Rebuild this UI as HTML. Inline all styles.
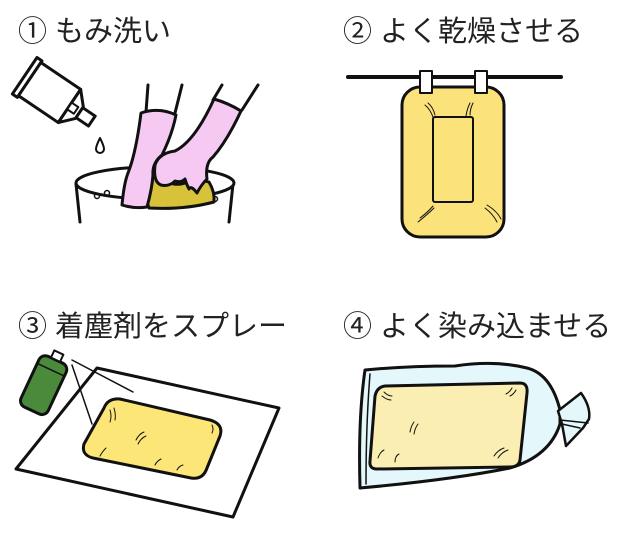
<!DOCTYPE html>
<html><head><meta charset="utf-8"><style>
html,body{margin:0;padding:0;background:#fff;}
svg{display:block;}
text{font-family:"Liberation Sans","Noto Sans CJK JP",sans-serif;font-size:29px;fill:#222;}
</style></head><body>
<svg width="620" height="533" viewBox="0 0 620 533" xmlns="http://www.w3.org/2000/svg">
<text x="18" y="41">① もみ洗い</text>
<text x="343" y="41">② よく乾燥させる</text>
<text x="18" y="336">③ 着塵剤をスプレー</text>
<text x="343" y="336">④ よく染み込ませる</text>

<g stroke="#111" stroke-width="3" stroke-linejoin="round" stroke-linecap="round">
<!-- Panel 1 bottle -->
<g transform="translate(28,78) rotate(34)">
<rect x="-4" y="-22" width="6" height="44" fill="#fff"/>
<rect x="2" y="-20" width="48" height="40" fill="#fff"/>
<polygon points="50,-20 62,-7 62,7 50,20" fill="#fff"/>
<rect x="62" y="-6" width="15" height="12" fill="#fff"/>
<rect x="50" y="-4" width="8" height="8" fill="#fff" stroke-width="2"/>
</g>
<path d="M100,138 q-4,8 -4,11 a4,4 0 0 0 8,0 q0,-3 -4,-11z" fill="#fff" stroke-width="2"/>
<!-- bucket -->
<path d="M76,184 L80,222 M233,184 L229,222" fill="none"/>
<ellipse cx="155" cy="183" rx="79" ry="16" fill="#fff"/>
<circle cx="97" cy="196" r="2.5" fill="none" stroke-width="1.5"/>
<circle cx="107" cy="193" r="2.5" fill="none" stroke-width="1.5"/>
<circle cx="215" cy="199" r="2.5" fill="none" stroke-width="1.5"/>
<!-- cloth -->
<path d="M147,172 q8,-8 14,2 q6,12 20,10 q18,-5 28,-2 q6,10 5,20 q-30,8 -65,6 q-6,-16 -2,-36z" fill="#d8c23a"/>
<!-- arm lines -->
<path d="M148,85 L146,112 M182,85 L175,113 M222,85 L213,100 M258,85 L242,110" fill="none"/>
<!-- left glove -->
<path d="M141,113 q18,-6 35,2 q-4,20 -14,40 q-10,8 -9,20 q-1,14 -6,32 q-12,2 -25,-2 q2,-22 6,-32 q8,-20 13,-60z" fill="#f5c9f2"/>
<!-- right glove -->
<path d="M214,99 q14,4 27,12 q-14,30 -28,46 q-8,6 -6,22 q-6,6 -10,14 q-6,-8 -8,-4 q-3,-6 -4,-10 q-4,4 -10,2 q-6,6 -14,4 q-8,-3 -6,-20 q4,-12 20,-14 q20,-10 39,-52z" fill="#f5c9f2"/>

<!-- Panel 2 -->
<line x1="348" y1="77" x2="561" y2="77" stroke-width="4"/>
<rect x="402" y="87" width="102" height="150" rx="18" fill="#fbe27a" stroke-width="3"/>
<rect x="433" y="117" width="40" height="85" rx="2" fill="#fbe27a" stroke-width="2"/>
<rect x="420" y="71" width="12" height="22" fill="#fff" stroke-width="2"/>
<rect x="475" y="71" width="12" height="22" fill="#fff" stroke-width="2"/>
<g stroke-width="1" fill="none">
<path d="M425,105 q5,4 8,12 M428,103 q5,4 7,12 M470,103 q-3,6 -4,13 M473,103 q-3,6 -3,12 M420,218 q8,-6 13,-12 M418,222 q10,-8 16,-14 M485,208 q8,6 12,14 M487,205 q10,6 14,14"/>
</g>

<!-- Panel 3 -->
<polygon points="97,368 279,408 233,517 16,469" fill="#fff" stroke-width="3"/>
<line x1="72" y1="360" x2="133" y2="392" stroke-width="1.5"/>
<line x1="72" y1="365" x2="92" y2="424" stroke-width="1.5"/>
<path d="M120,399 L210,420 q14,4 10,16 L207,468 q-4,12 -16,10 L93,458 q-12,-3 -9,-14 L104,408 q4,-10 16,-9z" fill="#fde678" stroke-width="3"/>
<g stroke-width="1" fill="none">
<path d="M110,410 q2,6 0,12 M114,408 q2,6 1,12 M136,440 q3,-6 8,-8 M138,444 q3,-6 8,-8 M100,456 q2,-4 6,-8 M155,465 q2,-4 6,-6 M177,470 q2,-4 6,-5 M212,425 q2,4 0,8"/>
</g>
<g transform="rotate(25 44 382)">
<rect x="30" y="357" width="30" height="56" rx="7" fill="#4a8a3a" stroke-width="3"/>
<line x1="31" y1="368" x2="59" y2="368" stroke-width="1.5"/>
<rect x="40" y="349" width="10" height="8" fill="#fff" stroke-width="2"/>
</g>

<!-- Panel 4 -->
<path d="M365,370 q40,-4 90,-4 q40,-6 72,2 q24,6 33,42 L560,424 q-10,32 -50,44 q-60,12 -150,20 q-2,-70 5,-118z" fill="#e4f8fc" stroke-width="3"/>
<path d="M370,374 q-4,50 -4,110" fill="none" stroke-width="1.5"/>
<path d="M385,386 L520,383 q8,0 7,10 L520,460 q-1,7 -10,7 L377,469 q-8,0 -7,-8 L375,396 q2,-9 10,-10z" fill="#fbeeb3" stroke-width="3"/>
<path d="M558,411 L581,393 q10,14 8,26 L583,428 L566,446 L562,424z" fill="#e4f8fc" stroke-width="2.5"/>
<path d="M560,420 L588,423 M562,424 L580,428" stroke-width="1.5" fill="none"/>
<g stroke-width="1" fill="none">
<path d="M384,392 q4,4 8,4 M382,396 q5,4 9,4 M512,388 q-2,4 -6,6 M516,390 q-2,4 -6,6 M410,432 q1,-6 4,-10 M414,434 q1,-6 4,-10 M378,458 q2,-6 6,-8 M395,462 q0,-6 4,-8 M494,456 q4,-6 10,-8 M498,458 q4,-6 10,-8"/>
</g>
</g>
</svg>
</body></html>
